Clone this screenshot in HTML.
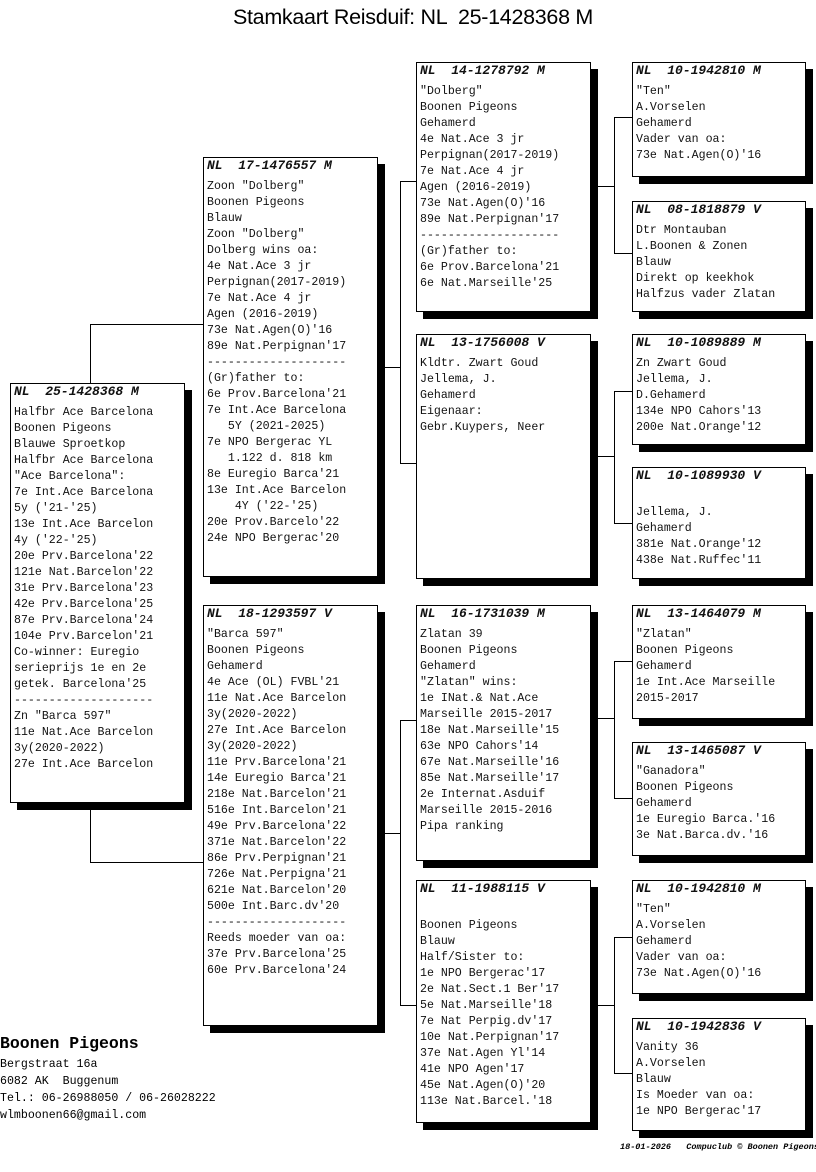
<!DOCTYPE html>
<html><head><meta charset="utf-8"><style>
body{margin:0;width:816px;height:1172px;background:#fff;position:relative;overflow:hidden;font-family:"Liberation Mono",monospace;}
.t{position:absolute;left:0;width:826px;top:5px;text-align:center;font-family:"Liberation Sans",sans-serif;font-size:21.5px;letter-spacing:-0.3px;white-space:pre;}
.b{position:absolute;border:1px solid #000;background:#fff;box-shadow:7px 7px 0 #000;box-sizing:border-box;padding:0 3px;font-size:11.6px;line-height:16px;white-space:pre;color:#111;}
.b .h{font-weight:bold;font-style:italic;font-size:13px;margin-bottom:5px;height:16px;}
.l{position:absolute;background:#000;}
.f{position:absolute;font-size:11.6px;line-height:17px;white-space:pre;}
</style></head><body>
<div class="t">Stamkaart Reisduif: NL  25-1428368 M</div>

<!-- connectors -->
<div class="l" style="left:90px;top:324px;width:1px;height:59px"></div>
<div class="l" style="left:90px;top:324px;width:113px;height:1px"></div>
<div class="l" style="left:90px;top:802px;width:1px;height:60px"></div>
<div class="l" style="left:90px;top:862px;width:113px;height:1px"></div>

<div class="l" style="left:377px;top:367px;width:23px;height:1px"></div>
<div class="l" style="left:400px;top:181px;width:1px;height:283px"></div>
<div class="l" style="left:400px;top:181px;width:16px;height:1px"></div>
<div class="l" style="left:400px;top:463px;width:16px;height:1px"></div>

<div class="l" style="left:377px;top:833px;width:23px;height:1px"></div>
<div class="l" style="left:400px;top:720px;width:1px;height:286px"></div>
<div class="l" style="left:400px;top:720px;width:16px;height:1px"></div>
<div class="l" style="left:400px;top:1005px;width:16px;height:1px"></div>

<div class="l" style="left:590px;top:186px;width:24px;height:1px"></div>
<div class="l" style="left:614px;top:117px;width:1px;height:137px"></div>
<div class="l" style="left:614px;top:117px;width:18px;height:1px"></div>
<div class="l" style="left:614px;top:253px;width:18px;height:1px"></div>

<div class="l" style="left:590px;top:456px;width:24px;height:1px"></div>
<div class="l" style="left:614px;top:391px;width:1px;height:133px"></div>
<div class="l" style="left:614px;top:391px;width:18px;height:1px"></div>
<div class="l" style="left:614px;top:523px;width:18px;height:1px"></div>

<div class="l" style="left:590px;top:718px;width:24px;height:1px"></div>
<div class="l" style="left:614px;top:661px;width:1px;height:138px"></div>
<div class="l" style="left:614px;top:661px;width:18px;height:1px"></div>
<div class="l" style="left:614px;top:798px;width:18px;height:1px"></div>

<div class="l" style="left:590px;top:1005px;width:24px;height:1px"></div>
<div class="l" style="left:614px;top:937px;width:1px;height:137px"></div>
<div class="l" style="left:614px;top:937px;width:18px;height:1px"></div>
<div class="l" style="left:614px;top:1073px;width:18px;height:1px"></div>

<!-- gen0 -->
<div class="b" style="left:10px;top:383px;width:175px;height:420px"><div class="h">NL  25-1428368 M</div>Halfbr Ace Barcelona
Boonen Pigeons
Blauwe Sproetkop
Halfbr Ace Barcelona
"Ace Barcelona":
7e Int.Ace Barcelona
5y ('21-'25)
13e Int.Ace Barcelon
4y ('22-'25)
20e Prv.Barcelona'22
121e Nat.Barcelon'22
31e Prv.Barcelona'23
42e Prv.Barcelona'25
87e Prv.Barcelona'24
104e Prv.Barcelon'21
Co-winner: Euregio
serieprijs 1e en 2e
getek. Barcelona'25
--------------------
Zn "Barca 597"
11e Nat.Ace Barcelon
3y(2020-2022)
27e Int.Ace Barcelon</div>

<!-- gen1 -->
<div class="b" style="left:203px;top:157px;width:175px;height:420px"><div class="h">NL  17-1476557 M</div>Zoon "Dolberg"
Boonen Pigeons
Blauw
Zoon "Dolberg"
Dolberg wins oa:
4e Nat.Ace 3 jr
Perpignan(2017-2019)
7e Nat.Ace 4 jr
Agen (2016-2019)
73e Nat.Agen(O)'16
89e Nat.Perpignan'17
--------------------
(Gr)father to:
6e Prov.Barcelona'21
7e Int.Ace Barcelona
   5Y (2021-2025)
7e NPO Bergerac YL
   1.122 d. 818 km
8e Euregio Barca'21
13e Int.Ace Barcelon
    4Y ('22-'25)
20e Prov.Barcelo'22
24e NPO Bergerac'20</div>
<div class="b" style="left:203px;top:605px;width:175px;height:421px"><div class="h">NL  18-1293597 V</div>"Barca 597"
Boonen Pigeons
Gehamerd
4e Ace (OL) FVBL'21
11e Nat.Ace Barcelon
3y(2020-2022)
27e Int.Ace Barcelon
3y(2020-2022)
11e Prv.Barcelona'21
14e Euregio Barca'21
218e Nat.Barcelon'21
516e Int.Barcelon'21
49e Prv.Barcelona'22
371e Nat.Barcelon'22
86e Prv.Perpignan'21
726e Nat.Perpigna'21
621e Nat.Barcelon'20
500e Int.Barc.dv'20
--------------------
Reeds moeder van oa:
37e Prv.Barcelona'25
60e Prv.Barcelona'24</div>

<!-- gen2 -->
<div class="b" style="left:416px;top:62px;width:175px;height:250px"><div class="h">NL  14-1278792 M</div>"Dolberg"
Boonen Pigeons
Gehamerd
4e Nat.Ace 3 jr
Perpignan(2017-2019)
7e Nat.Ace 4 jr
Agen (2016-2019)
73e Nat.Agen(O)'16
89e Nat.Perpignan'17
--------------------
(Gr)father to:
6e Prov.Barcelona'21
6e Nat.Marseille'25</div>
<div class="b" style="left:416px;top:334px;width:175px;height:245px"><div class="h">NL  13-1756008 V</div>Kldtr. Zwart Goud
Jellema, J.
Gehamerd
Eigenaar:
Gebr.Kuypers, Neer</div>
<div class="b" style="left:416px;top:605px;width:175px;height:256px"><div class="h">NL  16-1731039 M</div>Zlatan 39
Boonen Pigeons
Gehamerd
"Zlatan" wins:
1e INat.&amp; Nat.Ace
Marseille 2015-2017
18e Nat.Marseille'15
63e NPO Cahors'14
67e Nat.Marseille'16
85e Nat.Marseille'17
2e Internat.Asduif
Marseille 2015-2016
Pipa ranking</div>
<div class="b" style="left:416px;top:880px;width:175px;height:243px"><div class="h">NL  11-1988115 V</div>
Boonen Pigeons
Blauw
Half/Sister to:
1e NPO Bergerac'17
2e Nat.Sect.1 Ber'17
5e Nat.Marseille'18
7e Nat Perpig.dv'17
10e Nat.Perpignan'17
37e Nat.Agen Yl'14
41e NPO Agen'17
45e Nat.Agen(O)'20
113e Nat.Barcel.'18</div>

<!-- gen3 -->
<div class="b" style="left:632px;top:62px;width:174px;height:115px"><div class="h">NL  10-1942810 M</div>"Ten"
A.Vorselen
Gehamerd
Vader van oa:
73e Nat.Agen(O)'16</div>
<div class="b" style="left:632px;top:201px;width:174px;height:111px"><div class="h">NL  08-1818879 V</div>Dtr Montauban
L.Boonen &amp; Zonen
Blauw
Direkt op keekhok
Halfzus vader Zlatan</div>
<div class="b" style="left:632px;top:334px;width:174px;height:111px"><div class="h">NL  10-1089889 M</div>Zn Zwart Goud
Jellema, J.
D.Gehamerd
134e NPO Cahors'13
200e Nat.Orange'12</div>
<div class="b" style="left:632px;top:467px;width:174px;height:112px"><div class="h">NL  10-1089930 V</div>
Jellema, J.
Gehamerd
381e Nat.Orange'12
438e Nat.Ruffec'11</div>
<div class="b" style="left:632px;top:605px;width:174px;height:114px"><div class="h">NL  13-1464079 M</div>"Zlatan"
Boonen Pigeons
Gehamerd
1e Int.Ace Marseille
2015-2017</div>
<div class="b" style="left:632px;top:742px;width:174px;height:114px"><div class="h">NL  13-1465087 V</div>"Ganadora"
Boonen Pigeons
Gehamerd
1e Euregio Barca.'16
3e Nat.Barca.dv.'16</div>
<div class="b" style="left:632px;top:880px;width:174px;height:114px"><div class="h">NL  10-1942810 M</div>"Ten"
A.Vorselen
Gehamerd
Vader van oa:
73e Nat.Agen(O)'16</div>
<div class="b" style="left:632px;top:1018px;width:174px;height:113px"><div class="h">NL  10-1942836 V</div>Vanity 36
A.Vorselen
Blauw
Is Moeder van oa:
1e NPO Bergerac'17</div>

<div class="f" style="left:0;top:1034px;font-weight:bold;font-size:16.5px;line-height:20px">Boonen Pigeons</div>
<div class="f" style="left:0;top:1056px;font-size:11.6px">Bergstraat 16a
6082 AK  Buggenum
Tel.: 06-26988050 / 06-26028222
wlmboonen66@gmail.com</div>
<div class="f" style="left:620px;top:1139px;font-size:8.5px;font-style:italic;font-weight:bold">18-01-2026   Compuclub © Boonen Pigeons</div>
</body></html>
